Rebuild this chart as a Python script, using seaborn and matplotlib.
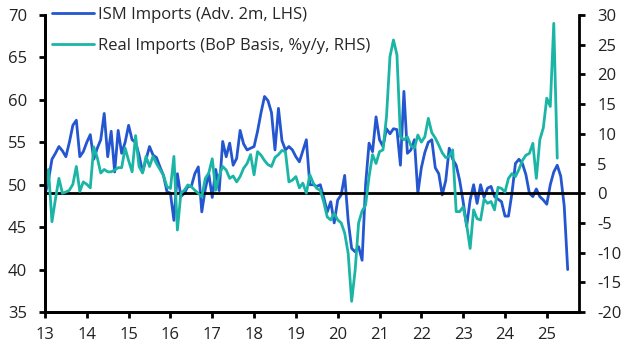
import numpy as np
import pandas as pd
import matplotlib
matplotlib.use("Agg")
import matplotlib.pyplot as plt
import seaborn as sns

# ISM imports index (advanced 2 months), monthly from Jan 2013, LHS
ism_imports = [
    48.8, 50.5, 53.0, 53.7, 54.5, 54.0, 53.3, 55.0, 57.0, 57.6, 53.3, 53.9,
    55.0, 55.9, 53.0, 54.3, 55.3, 58.4, 53.3, 56.3, 51.5, 56.4, 53.7, 55.0,
    57.0, 55.3, 55.0, 53.5, 51.5, 53.0, 54.5, 53.5, 53.2, 52.1, 51.1, 49.2,
    49.0, 45.8, 51.3, 48.6, 49.0, 49.8, 49.8, 51.3, 52.1, 46.8, 49.5, 51.3,
    48.5, 51.8, 49.3, 55.1, 53.3, 54.9, 52.3, 53.1, 56.4, 54.8, 54.1, 54.3,
    54.5, 56.3, 58.5, 60.4, 59.9, 58.5, 54.1, 59.0, 55.2, 54.1, 54.5, 54.1,
    53.3, 52.7, 54.0, 55.3, 50.0, 50.0, 49.8, 50.0, 48.5, 46.8, 48.0, 45.5,
    48.2, 48.8, 51.1, 45.8, 42.5, 42.1, 42.7, 41.1, 50.0, 54.9, 53.9, 58.0,
    55.3, 54.5, 56.6, 56.0, 56.6, 56.5, 52.3, 61.0, 53.7, 54.1, 55.3, 49.0,
    52.0, 53.8, 55.0, 55.3, 52.0, 51.3, 48.8, 50.5, 54.3, 53.0, 52.3, 50.5,
    48.0, 45.1, 48.2, 50.0, 47.8, 50.0, 48.5, 49.6, 49.8, 48.6, 48.3, 48.0,
    46.3, 46.3, 49.0, 52.5, 53.0, 52.5, 51.2, 49.0, 48.6, 49.5, 48.6, 48.2,
    47.7, 50.0, 51.5, 52.3, 51.0, 47.5, 40.0,
]

# Real imports, BoP basis, % y/y, monthly from Jan 2013, RHS
real_imports = [
    0.0, 4.0, -4.8, -1.0, 2.5, 0.0, 0.2, 0.5, 1.5, 4.5, 0.3, 1.9,
    1.5, 0.9, 7.8, 6.0, 3.4, 4.0, 3.6, 3.6, 3.9, 4.3, 4.3, 7.6,
    5.5, 3.6, 9.7, 4.5, 3.4, 6.2, 4.5, 6.2, 5.0, 4.0, 3.0, 1.1,
    0.8, 6.2, -6.2, 0.0, 0.5, 1.4, 1.1, 0.5, 0.0, -0.6, 2.5, 3.4,
    5.8, 0.5, 3.0, 4.5, 3.9, 2.5, 2.9, 1.9, 2.8, 4.2, 5.0, 6.5,
    3.1, 7.0, 6.4, 5.5, 4.8, 4.5, 6.0, 6.5, 7.2, 7.0, 1.9, 2.2,
    2.8, 0.9, 1.7, 0.0, 3.1, 1.7, 0.8, 0.5, -1.5, -4.0, -4.5, -3.4,
    -4.5, -5.0, -6.7, -10.1, -18.2, -13.0, -5.0, -3.0, -2.0, 2.8, 6.5, 5.0,
    7.0, 7.3, 12.9, 23.0, 25.8, 23.3, 9.5, 9.0, 9.5, 8.0, 7.6, 9.8,
    8.6, 9.5, 12.6, 10.2, 9.3, 8.1, 6.8, 6.0, 6.2, 7.3, -3.1, -3.1,
    -2.3, -5.3, -9.3, -2.8, -4.3, -4.5, -1.0, -1.7, -1.4, -2.8, 1.0, 0.8,
    0.2, 2.5, 3.3, 2.8, 4.0, 5.5, 6.4, 6.7, 8.4, 2.5, 9.0, 11.0,
    16.0, 14.6, 28.6, 5.9,
]

years = list(range(2013, 2026))
year_labels = [str(y)[2:] for y in years]
left_ticks = [35, 40, 45, 50, 55, 60, 65, 70]
right_ticks = [-20, -15, -10, -5, 0, 5, 10, 15, 20, 25, 30]

BLUE = "#2456D0"
TEAL = "#1BB5A5"

df_ism = pd.DataFrame({
    "date": 2013 + np.arange(len(ism_imports)) / 12,
    "value": ism_imports,
})
df_real = pd.DataFrame({
    "date": 2013 + np.arange(len(real_imports)) / 12,
    "value": real_imports,
})

sns.set_style("ticks")
plt.rcParams["font.family"] = ["Open Sans", "DejaVu Sans"]
plt.rcParams["axes.unicode_minus"] = False

fig = plt.figure(figsize=(6.29, 3.54), dpi=100)
ax = fig.add_axes([0.0715, 0.1186, 0.849, 0.839])
ax2 = ax.twinx()

sns.lineplot(data=df_ism, x="date", y="value", ax=ax, color=BLUE, lw=2.0,
             label="ISM Imports (Adv. 2m, LHS)", legend=False)
ax2.axhline(0, color="black", lw=2.0, zorder=1)
sns.lineplot(data=df_real, x="date", y="value", ax=ax2, color=TEAL, lw=2.0,
             label="Real Imports (BoP Basis, %y/y, RHS)", legend=False, zorder=2)

ax.set_xlim(2013, 2025.77)
ax.set_ylim(35, 70)
ax2.set_ylim(-20, 30)
ax.set_xticks(years)
ax.set_xticklabels(year_labels)
ax.set_yticks(left_ticks)
ax2.set_yticks(right_ticks)
ax.set_xlabel("")
ax.set_ylabel("")
ax2.set_ylabel("")

for a in (ax, ax2):
    a.spines["top"].set_visible(False)
    for s in ("left", "right", "bottom"):
        a.spines[s].set_linewidth(2.0)
        a.spines[s].set_color("black")
ax.spines["right"].set_visible(False)

ax.tick_params(axis="both", direction="out", length=4.5, width=2.0,
               labelsize=12, colors="#222222")
ax.tick_params(axis="x", pad=6)
ax.tick_params(axis="y", pad=8.5)
ax2.tick_params(axis="y", direction="out", length=4.5, width=2.0,
                labelsize=12, colors="#222222", pad=8.5)
for a in (ax, ax2):
    a.tick_params(color="black")

handles = ax.get_lines()[:1] + [l for l in ax2.get_lines() if l.get_label().startswith("Real")]
fig.legend(handles=handles, labels=[h.get_label() for h in handles],
           loc="upper left", bbox_to_anchor=(52 / 629, 1 - 7 / 354),
           frameon=False, fontsize=12, handlelength=2.55, handletextpad=0.2,
           labelspacing=0.88, borderpad=0, borderaxespad=0)

fig.savefig("out.png", dpi=100)
plt.close(fig)
